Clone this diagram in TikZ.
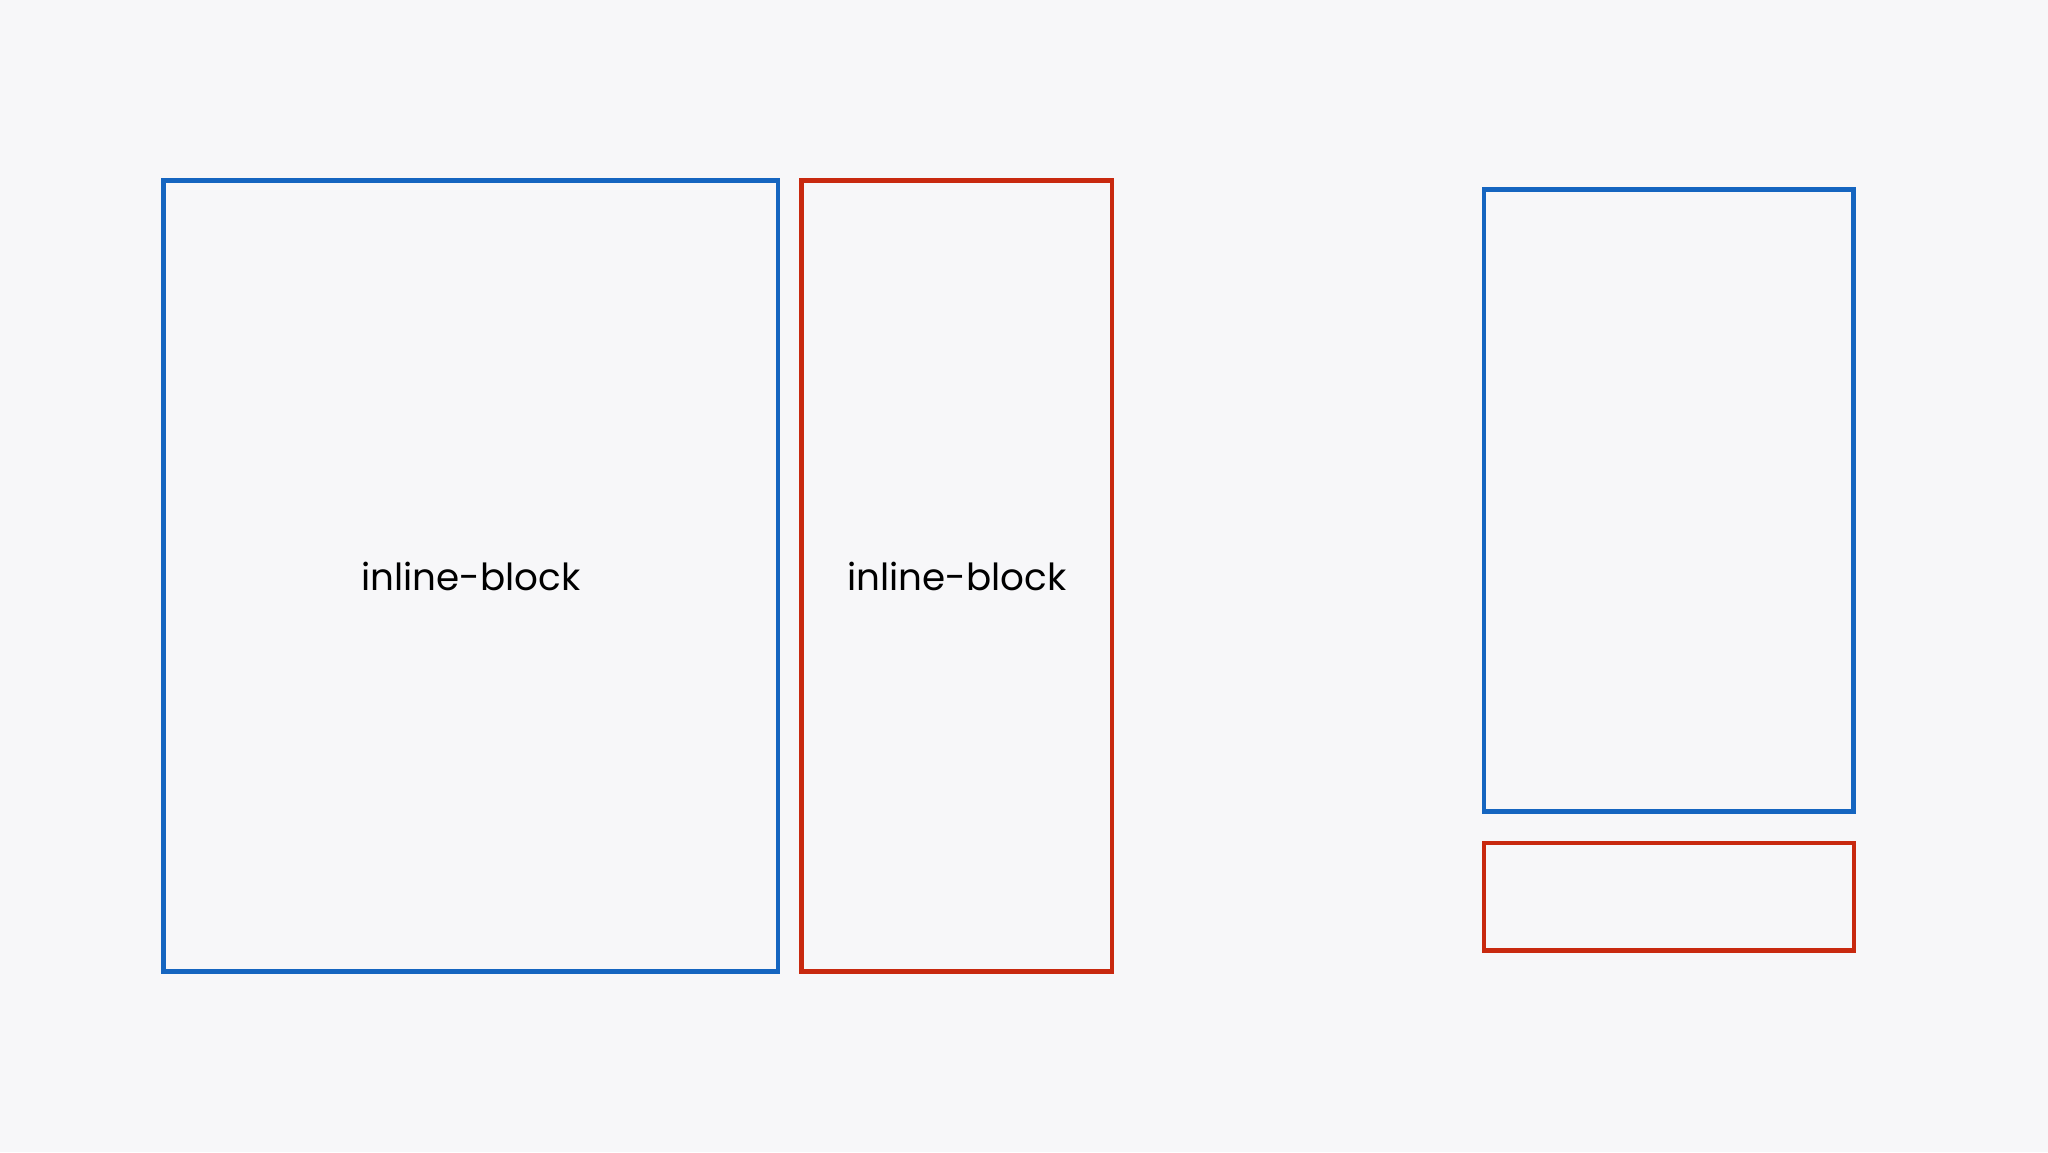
\documentclass[tikz,border=0pt]{standalone}
\usepackage{fontspec}
\setmainfont{Poppins}
\definecolor{bg}{HTML}{F7F7F9}
\definecolor{bblue}{HTML}{1565C0}
\definecolor{rred}{HTML}{C8290F}
\begin{document}
\begin{tikzpicture}[x=1pt,y=-1pt,
  bluebox/.style={draw=bblue,line width=4.6pt},
  redbox/.style={draw=rred,line width=4.6pt},
  lbl/.style={font=\fontsize{37.3}{44}\selectfont,text=black}]
\fill[bg] (0,0) rectangle (2048,1152);
\useasboundingbox (0,0) rectangle (2048,1152);
\draw[bluebox] (163.5,180.5) rectangle (778,971.5);
\draw[redbox] (801.5,180.5) rectangle (1112,971.5);
\draw[bluebox] (1484,189.5) rectangle (1853.5,811.5);
\draw[redbox] (1484,843) rectangle (1854,950.7);
\node[lbl,anchor=base] (t1) at (470.75,590) {inline-block};
\node[lbl,anchor=base] (t2) at (956.75,590) {inline-block};
\end{tikzpicture}
\end{document}
